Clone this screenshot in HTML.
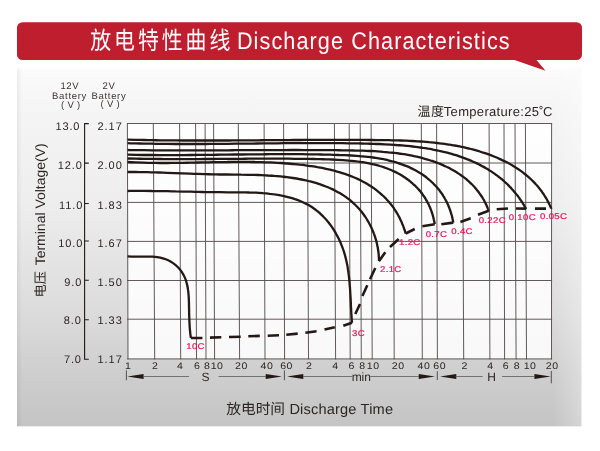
<!DOCTYPE html>
<html><head><meta charset="utf-8"><title>Discharge Characteristics</title>
<style>html,body{margin:0;padding:0;background:#fff;width:600px;height:451px;overflow:hidden;font-family:"Liberation Sans",sans-serif}</style></head>
<body>
<svg role="img" aria-label="Discharge Characteristics chart" width="600" height="451" viewBox="0 0 600 451" style="display:block;position:absolute;left:0;top:0;will-change:transform" font-family="'Liberation Sans', sans-serif" text-rendering="geometricPrecision">
<defs>
<linearGradient id="pg" x1="0" y1="0" x2="0" y2="1">
<stop offset="0" stop-color="#fbfbfb"/><stop offset="0.12" stop-color="#f5f5f5"/><stop offset="0.37" stop-color="#eeeeee"/><stop offset="0.68" stop-color="#dcdcdc"/><stop offset="0.87" stop-color="#cdcdcd"/><stop offset="1" stop-color="#c4c4c4"/>
</linearGradient>
<linearGradient id="le" x1="0" y1="0" x2="1" y2="0"><stop offset="0" stop-color="#000" stop-opacity="0.06"/><stop offset="1" stop-color="#000" stop-opacity="0"/></linearGradient>
<linearGradient id="re" x1="0" y1="0" x2="1" y2="0"><stop offset="0" stop-color="#fff" stop-opacity="0"/><stop offset="1" stop-color="#fff" stop-opacity="0.3"/></linearGradient>
<linearGradient id="tf" x1="0" y1="0" x2="0" y2="1"><stop offset="0" stop-color="#fff" stop-opacity="1"/><stop offset="1" stop-color="#fff" stop-opacity="0"/></linearGradient>
</defs>
<rect width="600" height="451" fill="#fff"/>
<rect x="17" y="66" width="564.4" height="360.3" fill="url(#pg)"/>
<rect x="17" y="66" width="5" height="360.3" fill="url(#le)"/>
<rect x="553" y="66" width="28.4" height="360.3" fill="url(#re)"/>
<rect x="17" y="66" width="564.4" height="6" fill="url(#tf)"/>
<path d="M22.5 22.2H576.5a5.5 5.5 0 0 1 5.5 5.5V54.5a5.5 5.5 0 0 1-5.5 5.5H536.5L545.5 70.8L514.5 60H22.5a5.5 5.5 0 0 1-5.5-5.5V27.7a5.5 5.5 0 0 1 5.5-5.5z" fill="#be1e2e"/>
<text transform="translate(90.3 49) scale(0.86 1)" font-size="24.3" fill="#fff" font-family="'Liberation Sans', 'Noto Sans CJK SC', sans-serif" letter-spacing="3.4">放电特性曲线</text>
<text transform="translate(236.9 48.7) scale(0.9 1)" font-size="24" fill="#fff" textLength="303" lengthAdjust="spacing">Discharge Characteristics</text>
<path d="M127.4 123.5L551.6 123.5L551.5 358.9L128.0 358.9z" fill="#fff" fill-opacity="0.86"/>
<path d="M127.4 123.0L128.0 359.4M153.3 123.0L154.7 359.4M179.6 123.0L180.7 359.4M195.6 123.0L196.5 359.4M205.1 123.0L206.0 359.4M213.6 123.0L214.6 359.4M238.3 123.0L239.6 359.4M264.1 123.0L265.0 359.4M283.6 123.0L284.6 359.4M307.5 123.0L308.5 359.4M334.4 123.0L335.6 359.4M349.2 123.0L350.2 359.4M360.2 123.0L361.3 359.4M371.1 123.0L372.2 359.4M393.4 123.0L394.2 359.4M421.3 123.0L422.3 359.4M436.6 123.0L437.4 359.4M462.5 123.0L463.7 359.4M489.1 123.0L489.9 359.4M504.0 123.0L504.6 359.4M515.0 123.0L516.1 359.4M525.4 123.0L526.5 359.4M551.6 123.0L551.5 359.4M127.10000000000001 123.5H552.1M127.10000000000001 163.0H552.1M127.10000000000001 202.4H552.1M127.10000000000001 241.4H552.1M127.10000000000001 280.5H552.1M127.10000000000001 319.2H552.1M127.10000000000001 358.9H552.1" stroke="#565150" stroke-width="0.95" fill="none"/>
<path d="M127.6 256.3C129.0 256.4 133.2 256.6 136.0 256.6C138.8 256.7 141.7 256.6 144.4 256.6C147.2 256.6 149.9 256.6 152.6 256.7C155.2 256.9 157.8 257.1 160.2 257.6C162.6 258.1 164.9 258.8 167.1 259.7C169.3 260.6 171.3 261.8 173.1 263.1C175.0 264.4 176.7 265.9 178.2 267.5C179.7 269.1 181.1 270.8 182.2 272.6C183.4 274.4 184.3 276.3 185.1 278.1C185.9 280.0 186.4 282.0 186.9 283.9C187.4 285.8 187.8 287.8 188.0 289.7C188.3 291.7 188.5 293.6 188.6 295.5C188.8 297.4 188.8 299.3 188.9 301.2C189.0 303.0 189.0 304.8 189.0 306.6C189.1 308.4 189.1 310.1 189.1 311.7C189.1 313.4 189.2 315.0 189.2 316.5C189.3 318.0 189.3 319.5 189.4 320.8C189.4 322.2 189.5 323.5 189.6 324.8C189.6 326.0 189.7 327.2 189.8 328.3C189.9 329.4 190.0 330.4 190.1 331.3C190.2 332.2 190.2 333.1 190.3 333.8C190.4 334.6 190.5 335.3 190.6 335.8C190.7 336.4 190.7 336.9 190.8 337.3C190.8 337.7 190.9 337.9 190.9 338.0" stroke="#231815" stroke-width="2.3" fill="none" stroke-linecap="butt"/>
<path d="M127.6 191.0C129.0 191.0 133.2 190.9 136.0 190.9C138.7 190.9 141.5 190.9 144.2 190.9C146.9 190.9 149.6 190.9 152.2 191.0C154.9 191.0 157.5 191.0 160.2 191.1C162.8 191.1 165.4 191.2 167.9 191.2C170.5 191.3 173.1 191.3 175.6 191.4C178.2 191.4 180.7 191.5 183.2 191.6C185.8 191.6 188.3 191.7 190.8 191.7C193.2 191.8 195.7 191.9 198.2 191.9C200.7 192.0 203.1 192.0 205.6 192.1C208.1 192.1 210.5 192.1 212.9 192.2C215.4 192.2 217.8 192.2 220.3 192.2C222.7 192.3 225.1 192.3 227.5 192.3C229.9 192.3 232.4 192.3 234.8 192.3C237.2 192.3 239.6 192.3 241.9 192.3C244.3 192.4 246.7 192.4 249.1 192.5C251.4 192.5 253.7 192.6 256.1 192.7C258.4 192.8 260.7 193.0 263.0 193.2C265.2 193.3 267.5 193.5 269.7 193.8C272.0 194.0 274.2 194.3 276.4 194.7C278.5 195.0 280.7 195.4 282.8 195.8C284.9 196.3 287.0 196.8 289.0 197.3C291.1 197.8 293.1 198.4 295.0 199.1C296.9 199.7 298.8 200.4 300.7 201.2C302.5 202.0 304.3 202.8 306.0 203.7C307.7 204.6 309.4 205.5 311.0 206.5C312.6 207.6 314.1 208.6 315.6 209.7C317.1 210.9 318.5 212.0 319.8 213.2C321.2 214.5 322.5 215.7 323.7 217.0C325.0 218.3 326.2 219.6 327.3 221.0C328.5 222.3 329.5 223.7 330.6 225.1C331.6 226.5 332.6 228.0 333.5 229.4C334.4 230.9 335.3 232.3 336.1 233.8C337.0 235.3 337.8 236.8 338.5 238.3C339.2 239.8 339.9 241.3 340.6 242.8C341.2 244.3 341.8 245.9 342.4 247.4C343.0 248.9 343.5 250.4 344.0 251.9C344.4 253.4 344.9 254.9 345.3 256.4C345.7 257.9 346.0 259.4 346.4 260.9C346.7 262.4 347.0 263.9 347.3 265.3C347.6 266.8 347.8 268.3 348.0 269.7C348.3 271.1 348.5 272.5 348.6 273.9C348.8 275.3 349.0 276.7 349.1 278.0C349.3 279.4 349.4 280.7 349.5 282.1C349.6 283.4 349.7 284.7 349.8 285.9C349.9 287.2 350.0 288.4 350.1 289.6C350.2 290.9 350.2 292.1 350.3 293.2C350.4 294.4 350.4 295.5 350.5 296.6C350.6 297.7 350.6 298.8 350.7 299.9C350.7 300.9 350.8 301.9 350.8 302.9C350.9 303.9 350.9 304.9 350.9 305.8C351.0 306.7 351.0 307.6 351.1 308.5C351.1 309.4 351.2 310.2 351.2 311.0C351.2 311.8 351.3 312.6 351.3 313.3C351.4 314.0 351.4 314.7 351.5 315.4C351.5 316.0 351.5 316.7 351.6 317.3C351.6 317.8 351.7 318.4 351.7 318.9C351.7 319.4 351.8 319.9 351.8 320.3C351.8 320.7 351.9 321.1 351.9 321.5C351.9 321.8 351.9 322.1 352.0 322.3C352.0 322.5 352.0 322.6 352.0 322.7" stroke="#231815" stroke-width="2.3" fill="none" stroke-linecap="butt"/>
<path d="M127.6 172.0C128.9 172.0 132.9 172.0 135.5 172.0C138.2 172.0 140.8 172.1 143.4 172.1C146.0 172.2 148.7 172.2 151.3 172.3C153.9 172.4 156.5 172.4 159.1 172.5C161.7 172.6 164.3 172.7 166.9 172.8C169.5 172.9 172.1 173.0 174.6 173.1C177.2 173.2 179.8 173.3 182.3 173.4C184.9 173.5 187.4 173.6 189.9 173.7C192.5 173.8 195.0 173.8 197.5 173.9C200.0 174.0 202.5 174.1 205.0 174.2C207.4 174.2 209.9 174.3 212.4 174.3C214.8 174.4 217.2 174.4 219.7 174.5C222.1 174.5 224.5 174.5 226.9 174.5C229.3 174.6 231.6 174.6 234.0 174.6C236.3 174.6 238.7 174.6 241.0 174.7C243.3 174.7 245.6 174.7 247.9 174.8C250.2 174.8 252.4 174.9 254.7 174.9C256.9 175.0 259.2 175.0 261.4 175.1C263.6 175.2 265.8 175.3 267.9 175.5C270.1 175.6 272.2 175.7 274.4 175.9C276.5 176.0 278.6 176.2 280.7 176.4C282.8 176.6 284.8 176.9 286.9 177.1C288.9 177.4 290.9 177.7 292.9 178.0C294.9 178.3 296.9 178.6 298.9 179.0C300.8 179.3 302.8 179.7 304.7 180.1C306.6 180.5 308.4 181.0 310.3 181.4C312.1 181.9 313.9 182.4 315.7 182.9C317.5 183.5 319.2 184.0 320.9 184.6C322.7 185.2 324.3 185.8 326.0 186.5C327.6 187.1 329.2 187.8 330.8 188.5C332.3 189.2 333.9 189.9 335.3 190.7C336.8 191.5 338.3 192.3 339.7 193.1C341.1 193.9 342.4 194.7 343.8 195.6C345.1 196.5 346.4 197.4 347.6 198.3C348.8 199.2 350.0 200.2 351.2 201.1C352.3 202.1 353.5 203.1 354.5 204.1C355.6 205.1 356.6 206.2 357.6 207.2C358.6 208.3 359.6 209.3 360.5 210.4C361.4 211.5 362.2 212.6 363.1 213.7C363.9 214.8 364.7 215.9 365.4 217.0C366.2 218.2 366.9 219.3 367.5 220.4C368.2 221.5 368.8 222.6 369.4 223.8C370.0 224.9 370.6 226.0 371.1 227.1C371.6 228.2 372.1 229.3 372.6 230.4C373.1 231.5 373.5 232.5 373.9 233.6C374.3 234.6 374.6 235.7 375.0 236.7C375.3 237.7 375.6 238.8 375.9 239.7C376.2 240.7 376.5 241.7 376.7 242.7C376.9 243.6 377.1 244.5 377.3 245.4C377.5 246.3 377.7 247.2 377.8 248.1C378.0 248.9 378.1 249.7 378.2 250.5C378.3 251.3 378.4 252.1 378.5 252.8C378.6 253.5 378.7 254.2 378.7 254.8C378.8 255.5 378.8 256.1 378.8 256.7C378.9 257.3 378.9 257.8 378.9 258.3C379.0 258.8 379.0 259.2 379.0 259.6C379.0 260.0 379.0 260.3 379.0 260.5C379.0 260.8 379.0 260.9 379.0 261.0" stroke="#231815" stroke-width="2.3" fill="none" stroke-linecap="butt"/>
<path d="M127.6 162.0C129.0 162.1 133.1 162.3 135.8 162.4C138.5 162.5 141.2 162.6 143.9 162.7C146.6 162.8 149.3 162.8 151.9 162.9C154.6 162.9 157.2 163.0 159.8 163.0C162.5 163.0 165.1 163.0 167.7 163.0C170.3 163.0 172.8 162.9 175.4 162.9C178.0 162.9 180.5 162.9 183.0 162.8C185.6 162.8 188.1 162.7 190.6 162.7C193.1 162.6 195.6 162.6 198.1 162.5C200.5 162.5 203.0 162.4 205.4 162.4C207.9 162.3 210.3 162.3 212.7 162.2C215.1 162.2 217.5 162.1 219.9 162.1C222.3 162.0 224.7 162.0 227.0 162.0C229.4 161.9 231.7 161.9 234.1 161.9C236.4 161.9 238.7 161.9 241.0 161.9C243.3 161.9 245.6 161.9 247.9 161.9C250.1 161.9 252.4 161.9 254.6 162.0C256.9 162.0 259.1 162.1 261.3 162.1C263.6 162.2 265.8 162.3 267.9 162.3C270.1 162.4 272.3 162.5 274.5 162.6C276.6 162.8 278.7 162.9 280.9 163.0C283.0 163.2 285.1 163.3 287.2 163.5C289.3 163.7 291.4 163.8 293.5 164.0C295.5 164.2 297.6 164.4 299.6 164.7C301.7 164.9 303.7 165.1 305.7 165.4C307.7 165.7 309.7 165.9 311.6 166.2C313.6 166.5 315.6 166.8 317.5 167.2C319.4 167.5 321.3 167.9 323.2 168.2C325.0 168.6 326.9 169.0 328.7 169.4C330.5 169.8 332.3 170.3 334.0 170.7C335.8 171.2 337.5 171.6 339.2 172.1C340.9 172.6 342.6 173.1 344.2 173.7C345.8 174.2 347.4 174.8 349.0 175.4C350.6 176.0 352.1 176.6 353.6 177.2C355.1 177.8 356.6 178.4 358.0 179.1C359.4 179.8 360.8 180.4 362.2 181.2C363.5 181.9 364.8 182.6 366.1 183.3C367.4 184.0 368.6 184.8 369.9 185.6C371.1 186.3 372.2 187.1 373.4 187.9C374.5 188.7 375.6 189.6 376.7 190.4C377.8 191.2 378.8 192.1 379.8 192.9C380.8 193.8 381.8 194.6 382.7 195.5C383.6 196.3 384.5 197.2 385.4 198.1C386.2 199.0 387.1 199.9 387.9 200.8C388.7 201.7 389.4 202.5 390.2 203.4C390.9 204.3 391.6 205.2 392.3 206.1C392.9 207.0 393.6 207.9 394.2 208.8C394.8 209.7 395.4 210.6 395.9 211.4C396.5 212.3 397.0 213.2 397.5 214.0C398.0 214.9 398.4 215.7 398.9 216.6C399.3 217.4 399.8 218.2 400.1 219.0C400.5 219.9 400.9 220.6 401.3 221.4C401.6 222.2 401.9 222.9 402.2 223.7C402.5 224.4 402.8 225.1 403.1 225.8C403.3 226.5 403.6 227.1 403.8 227.7C404.0 228.3 404.2 228.9 404.4 229.5C404.6 230.0 404.8 230.6 404.9 231.0C405.1 231.5 405.2 231.9 405.3 232.3C405.4 232.7 405.5 233.0 405.6 233.2C405.6 233.5 405.7 233.6 405.7 233.7" stroke="#231815" stroke-width="2.3" fill="none" stroke-linecap="butt"/>
<path d="M127.6 158.5C129.0 158.5 133.1 158.6 135.9 158.7C138.6 158.7 141.3 158.8 144.0 158.8C146.7 158.9 149.4 158.9 152.1 158.9C154.7 159.0 157.4 159.0 160.0 159.0C162.6 159.0 165.3 159.1 167.9 159.1C170.5 159.1 173.0 159.1 175.6 159.1C178.2 159.1 180.7 159.1 183.3 159.1C185.8 159.1 188.3 159.1 190.8 159.1C193.4 159.1 195.9 159.1 198.3 159.1C200.8 159.0 203.3 159.0 205.7 159.0C208.2 159.0 210.6 159.0 213.1 159.0C215.5 159.0 217.9 158.9 220.3 158.9C222.7 158.9 225.1 158.9 227.5 158.9C229.8 158.8 232.2 158.8 234.5 158.8C236.9 158.8 239.2 158.8 241.5 158.8C243.9 158.8 246.2 158.7 248.5 158.7C250.8 158.7 253.1 158.7 255.3 158.7C257.6 158.7 259.9 158.7 262.1 158.7C264.4 158.7 266.6 158.7 268.8 158.7C271.0 158.7 273.3 158.7 275.5 158.7C277.7 158.7 279.8 158.7 282.0 158.7C284.2 158.7 286.4 158.7 288.5 158.7C290.7 158.7 292.8 158.7 294.9 158.8C297.1 158.8 299.2 158.8 301.3 158.8C303.4 158.9 305.5 158.9 307.6 158.9C309.6 159.0 311.7 159.0 313.8 159.0C315.8 159.1 317.9 159.1 319.9 159.2C321.9 159.2 324.0 159.3 326.0 159.3C328.0 159.4 330.0 159.4 331.9 159.5C333.9 159.6 335.9 159.7 337.8 159.8C339.7 159.9 341.6 160.0 343.5 160.1C345.4 160.2 347.3 160.4 349.2 160.6C351.0 160.7 352.8 160.9 354.6 161.1C356.4 161.3 358.2 161.5 360.0 161.8C361.7 162.1 363.5 162.3 365.2 162.6C366.9 162.9 368.5 163.2 370.2 163.6C371.8 163.9 373.4 164.3 375.0 164.7C376.6 165.1 378.2 165.5 379.7 166.0C381.2 166.4 382.7 166.9 384.2 167.4C385.6 167.9 387.1 168.4 388.5 169.0C389.9 169.5 391.3 170.1 392.6 170.7C393.9 171.3 395.2 172.0 396.5 172.6C397.8 173.3 399.0 173.9 400.2 174.6C401.4 175.3 402.6 176.0 403.7 176.8C404.9 177.5 405.9 178.2 407.0 179.0C408.1 179.8 409.1 180.5 410.1 181.3C411.1 182.1 412.0 182.9 412.9 183.8C413.9 184.6 414.7 185.4 415.6 186.2C416.4 187.1 417.3 187.9 418.0 188.8C418.8 189.7 419.6 190.5 420.3 191.4C421.0 192.3 421.7 193.1 422.3 194.0C423.0 194.9 423.6 195.8 424.2 196.6C424.7 197.5 425.3 198.4 425.8 199.3C426.3 200.1 426.8 201.0 427.3 201.9C427.8 202.7 428.2 203.6 428.6 204.4C429.0 205.3 429.4 206.1 429.8 207.0C430.1 207.8 430.4 208.6 430.8 209.4C431.1 210.2 431.4 211.0 431.6 211.8C431.9 212.5 432.1 213.3 432.4 214.0C432.6 214.7 432.8 215.4 433.0 216.1C433.2 216.8 433.3 217.4 433.5 218.0C433.6 218.7 433.8 219.2 433.9 219.8C434.0 220.3 434.1 220.9 434.2 221.3C434.3 221.8 434.4 222.2 434.5 222.6C434.5 223.0 434.6 223.3 434.6 223.5C434.7 223.8 434.7 223.9 434.7 224.0" stroke="#231815" stroke-width="2.3" fill="none" stroke-linecap="butt"/>
<path d="M127.6 154.7C129.0 154.7 133.1 154.8 135.9 154.9C138.6 154.9 141.3 154.9 144.0 155.0C146.7 155.0 149.4 155.0 152.1 155.0C154.8 155.1 157.4 155.1 160.1 155.1C162.7 155.1 165.3 155.1 167.9 155.1C170.5 155.1 173.1 155.1 175.7 155.1C178.3 155.1 180.8 155.1 183.4 155.1C185.9 155.0 188.4 155.0 190.9 155.0C193.5 155.0 196.0 155.0 198.4 154.9C200.9 154.9 203.4 154.9 205.9 154.9C208.3 154.9 210.8 154.8 213.2 154.8C215.6 154.8 218.0 154.7 220.4 154.7C222.8 154.7 225.2 154.7 227.6 154.6C230.0 154.6 232.4 154.6 234.7 154.5C237.1 154.5 239.4 154.5 241.8 154.5C244.1 154.4 246.4 154.4 248.7 154.4C251.0 154.4 253.3 154.3 255.6 154.3C257.9 154.3 260.2 154.3 262.4 154.3C264.7 154.3 266.9 154.2 269.2 154.2C271.4 154.2 273.6 154.2 275.9 154.2C278.1 154.2 280.3 154.2 282.5 154.2C284.7 154.2 286.9 154.2 289.0 154.2C291.2 154.2 293.4 154.2 295.5 154.2C297.7 154.2 299.8 154.2 302.0 154.2C304.1 154.3 306.2 154.3 308.3 154.3C310.4 154.3 312.5 154.4 314.6 154.4C316.7 154.4 318.8 154.5 320.9 154.5C322.9 154.5 325.0 154.6 327.0 154.6C329.1 154.7 331.1 154.7 333.1 154.8C335.2 154.8 337.2 154.9 339.2 155.0C341.2 155.0 343.2 155.1 345.1 155.2C347.1 155.3 349.1 155.4 351.0 155.5C352.9 155.6 354.8 155.7 356.7 155.8C358.6 156.0 360.5 156.1 362.4 156.3C364.2 156.5 366.0 156.7 367.8 156.9C369.6 157.1 371.4 157.3 373.2 157.5C374.9 157.8 376.7 158.0 378.4 158.3C380.1 158.6 381.8 158.9 383.4 159.2C385.1 159.6 386.7 159.9 388.3 160.3C389.9 160.7 391.5 161.1 393.0 161.5C394.5 161.9 396.1 162.3 397.5 162.8C399.0 163.3 400.5 163.8 401.9 164.3C403.3 164.8 404.7 165.3 406.1 165.9C407.4 166.4 408.8 167.0 410.1 167.6C411.4 168.2 412.6 168.8 413.9 169.5C415.1 170.1 416.3 170.8 417.5 171.5C418.7 172.1 419.8 172.8 420.9 173.6C422.1 174.3 423.1 175.0 424.2 175.8C425.2 176.5 426.3 177.3 427.2 178.1C428.2 178.9 429.2 179.7 430.1 180.5C431.0 181.3 431.9 182.1 432.8 183.0C433.6 183.8 434.4 184.6 435.2 185.5C436.0 186.3 436.8 187.2 437.5 188.0C438.2 188.9 438.9 189.8 439.6 190.6C440.2 191.5 440.9 192.4 441.5 193.2C442.1 194.1 442.7 195.0 443.2 195.9C443.8 196.7 444.3 197.6 444.8 198.5C445.3 199.3 445.7 200.2 446.2 201.0C446.6 201.9 447.0 202.7 447.4 203.5C447.8 204.4 448.2 205.2 448.5 206.0C448.8 206.8 449.2 207.6 449.5 208.4C449.8 209.2 450.0 209.9 450.3 210.7C450.5 211.4 450.8 212.1 451.0 212.9C451.2 213.6 451.4 214.2 451.6 214.9C451.8 215.5 451.9 216.2 452.1 216.8C452.2 217.4 452.4 217.9 452.5 218.5C452.6 219.0 452.7 219.5 452.8 219.9C452.9 220.4 453.0 220.8 453.1 221.2C453.1 221.5 453.2 221.8 453.2 222.1C453.3 222.3 453.3 222.4 453.3 222.5" stroke="#231815" stroke-width="2.3" fill="none" stroke-linecap="butt"/>
<path d="M127.6 150.0C129.0 150.0 133.2 150.1 135.9 150.1C138.7 150.1 141.4 150.2 144.1 150.2C146.8 150.2 149.5 150.2 152.2 150.3C154.9 150.3 157.6 150.3 160.2 150.3C162.9 150.3 165.5 150.3 168.1 150.3C170.8 150.4 173.4 150.4 176.0 150.4C178.6 150.4 181.2 150.4 183.7 150.4C186.3 150.4 188.9 150.4 191.4 150.4C193.9 150.4 196.5 150.4 199.0 150.4C201.5 150.4 204.0 150.4 206.5 150.3C209.0 150.3 211.4 150.3 213.9 150.3C216.4 150.3 218.8 150.3 221.3 150.3C223.7 150.3 226.1 150.3 228.5 150.3C230.9 150.3 233.3 150.2 235.7 150.2C238.1 150.2 240.5 150.2 242.9 150.2C245.2 150.2 247.6 150.2 249.9 150.2C252.3 150.2 254.6 150.1 256.9 150.1C259.3 150.1 261.6 150.1 263.9 150.1C266.2 150.1 268.5 150.1 270.7 150.1C273.0 150.1 275.3 150.1 277.5 150.1C279.8 150.1 282.0 150.1 284.3 150.1C286.5 150.0 288.7 150.0 290.9 150.0C293.2 150.0 295.4 150.0 297.6 150.0C299.8 150.0 301.9 150.0 304.1 150.1C306.3 150.1 308.4 150.1 310.6 150.1C312.8 150.1 314.9 150.1 317.0 150.1C319.2 150.1 321.3 150.1 323.4 150.1C325.5 150.1 327.6 150.1 329.7 150.2C331.8 150.2 333.9 150.2 335.9 150.2C338.0 150.2 340.1 150.3 342.1 150.3C344.2 150.3 346.2 150.3 348.2 150.4C350.3 150.4 352.3 150.4 354.3 150.5C356.3 150.5 358.3 150.5 360.2 150.6C362.2 150.7 364.2 150.7 366.1 150.8C368.0 150.9 370.0 151.0 371.9 151.0C373.8 151.1 375.7 151.3 377.5 151.4C379.4 151.5 381.3 151.6 383.1 151.8C385.0 151.9 386.8 152.1 388.6 152.3C390.4 152.4 392.1 152.6 393.9 152.8C395.7 153.0 397.4 153.2 399.1 153.5C400.8 153.7 402.5 154.0 404.2 154.2C405.9 154.5 407.5 154.8 409.2 155.1C410.8 155.4 412.4 155.7 414.0 156.1C415.6 156.4 417.2 156.8 418.7 157.1C420.2 157.5 421.8 157.9 423.3 158.3C424.8 158.7 426.2 159.1 427.7 159.6C429.1 160.0 430.6 160.5 432.0 160.9C433.4 161.4 434.7 161.9 436.1 162.4C437.5 162.9 438.8 163.4 440.1 163.9C441.4 164.5 442.7 165.0 443.9 165.6C445.2 166.2 446.4 166.7 447.6 167.3C448.8 167.9 450.0 168.5 451.2 169.2C452.3 169.8 453.4 170.4 454.5 171.0C455.6 171.7 456.7 172.3 457.7 173.0C458.8 173.7 459.8 174.3 460.7 175.0C461.7 175.7 462.7 176.4 463.6 177.1C464.5 177.8 465.4 178.5 466.3 179.2C467.1 179.9 468.0 180.7 468.8 181.4C469.6 182.1 470.3 182.8 471.1 183.6C471.8 184.3 472.6 185.0 473.3 185.8C474.0 186.5 474.6 187.2 475.3 188.0C475.9 188.7 476.5 189.4 477.1 190.2C477.7 190.9 478.2 191.6 478.8 192.3C479.3 193.0 479.8 193.8 480.3 194.5C480.8 195.2 481.3 195.9 481.7 196.6C482.2 197.2 482.6 197.9 483.0 198.6C483.4 199.2 483.7 199.9 484.1 200.5C484.4 201.2 484.8 201.8 485.1 202.4C485.4 203.0 485.7 203.6 485.9 204.1C486.2 204.7 486.5 205.2 486.7 205.8C486.9 206.3 487.1 206.8 487.3 207.2C487.5 207.7 487.7 208.1 487.8 208.5C488.0 208.9 488.1 209.2 488.3 209.5C488.4 209.8 488.5 210.1 488.6 210.3C488.6 210.5 488.7 210.6 488.7 210.7" stroke="#231815" stroke-width="2.3" fill="none" stroke-linecap="butt"/>
<path d="M127.6 143.2C129.0 143.2 133.1 143.4 135.8 143.4C138.5 143.5 141.2 143.5 143.9 143.6C146.6 143.7 149.2 143.7 151.9 143.7C154.5 143.8 157.2 143.8 159.8 143.9C162.4 143.9 165.1 143.9 167.7 143.9C170.3 144.0 172.9 144.0 175.5 144.0C178.0 144.0 180.6 144.0 183.2 144.0C185.7 144.0 188.3 144.0 190.8 144.0C193.3 144.0 195.9 144.0 198.4 144.0C200.9 144.0 203.4 144.0 205.9 144.0C208.4 144.0 210.8 143.9 213.3 143.9C215.8 143.9 218.2 143.9 220.7 143.9C223.1 143.9 225.5 143.8 228.0 143.8C230.4 143.8 232.8 143.8 235.2 143.7C237.6 143.7 240.0 143.7 242.4 143.7C244.7 143.6 247.1 143.6 249.5 143.6C251.8 143.6 254.2 143.5 256.5 143.5C258.8 143.5 261.2 143.5 263.5 143.4C265.8 143.4 268.1 143.4 270.4 143.4C272.7 143.3 275.0 143.3 277.3 143.3C279.6 143.3 281.8 143.3 284.1 143.2C286.3 143.2 288.6 143.2 290.8 143.2C293.1 143.2 295.3 143.2 297.5 143.1C299.7 143.1 301.9 143.1 304.1 143.1C306.3 143.1 308.5 143.1 310.7 143.1C312.9 143.1 315.1 143.1 317.2 143.1C319.4 143.1 321.5 143.1 323.7 143.1C325.8 143.1 327.9 143.1 330.1 143.1C332.2 143.1 334.3 143.2 336.4 143.2C338.5 143.2 340.6 143.2 342.7 143.2C344.8 143.3 346.8 143.3 348.9 143.3C351.0 143.3 353.0 143.4 355.1 143.4C357.1 143.4 359.2 143.5 361.2 143.5C363.2 143.6 365.2 143.6 367.2 143.7C369.2 143.7 371.2 143.8 373.2 143.8C375.2 143.9 377.1 144.0 379.1 144.0C381.1 144.1 383.0 144.2 384.9 144.3C386.9 144.4 388.8 144.5 390.7 144.6C392.6 144.7 394.4 144.8 396.3 145.0C398.2 145.1 400.0 145.2 401.9 145.4C403.7 145.6 405.5 145.7 407.3 145.9C409.1 146.1 410.9 146.3 412.7 146.5C414.5 146.7 416.2 146.9 418.0 147.1C419.7 147.4 421.4 147.6 423.1 147.9C424.8 148.1 426.5 148.4 428.1 148.7C429.8 148.9 431.4 149.2 433.1 149.6C434.7 149.9 436.3 150.2 437.9 150.5C439.5 150.9 441.0 151.2 442.6 151.6C444.1 151.9 445.7 152.3 447.2 152.7C448.7 153.1 450.2 153.5 451.6 153.9C453.1 154.4 454.5 154.8 456.0 155.2C457.4 155.7 458.8 156.1 460.2 156.6C461.6 157.1 462.9 157.6 464.3 158.1C465.6 158.6 466.9 159.1 468.2 159.6C469.5 160.1 470.8 160.7 472.1 161.2C473.3 161.8 474.5 162.3 475.8 162.9C477.0 163.4 478.2 164.0 479.3 164.6C480.5 165.2 481.6 165.8 482.7 166.4C483.9 167.0 485.0 167.6 486.0 168.3C487.1 168.9 488.2 169.5 489.2 170.2C490.2 170.8 491.2 171.5 492.2 172.1C493.2 172.8 494.1 173.4 495.1 174.1C496.0 174.8 496.9 175.4 497.8 176.1C498.7 176.8 499.6 177.5 500.4 178.1C501.2 178.8 502.1 179.5 502.9 180.2C503.7 180.9 504.4 181.6 505.2 182.3C506.0 182.9 506.7 183.6 507.4 184.3C508.1 185.0 508.8 185.7 509.5 186.4C510.1 187.1 510.8 187.7 511.4 188.4C512.0 189.1 512.6 189.8 513.2 190.4C513.8 191.1 514.4 191.8 514.9 192.4C515.5 193.1 516.0 193.7 516.5 194.4C517.0 195.0 517.5 195.6 518.0 196.2C518.4 196.9 518.9 197.5 519.3 198.1C519.7 198.7 520.1 199.2 520.5 199.8C520.9 200.4 521.3 200.9 521.6 201.4C522.0 202.0 522.3 202.5 522.6 203.0C522.9 203.5 523.2 203.9 523.5 204.4C523.8 204.8 524.0 205.3 524.3 205.7C524.5 206.1 524.7 206.4 524.9 206.8C525.1 207.1 525.3 207.4 525.4 207.7C525.6 208.0 525.7 208.2 525.8 208.4C525.9 208.5 526.0 208.6 526.0 208.7" stroke="#231815" stroke-width="2.3" fill="none" stroke-linecap="butt"/>
<path d="M127.6 139.7C129.0 139.7 133.1 139.8 135.8 139.9C138.6 139.9 141.3 140.0 144.0 140.0C146.7 140.1 149.4 140.1 152.1 140.2C154.7 140.2 157.4 140.3 160.1 140.3C162.7 140.3 165.4 140.4 168.0 140.4C170.6 140.4 173.3 140.4 175.9 140.4C178.5 140.5 181.1 140.5 183.7 140.5C186.3 140.5 188.8 140.5 191.4 140.5C194.0 140.5 196.5 140.5 199.1 140.5C201.6 140.5 204.1 140.5 206.6 140.5C209.2 140.5 211.7 140.5 214.2 140.5C216.7 140.5 219.2 140.5 221.6 140.5C224.1 140.5 226.6 140.5 229.0 140.5C231.5 140.5 233.9 140.4 236.4 140.4C238.8 140.4 241.2 140.4 243.7 140.4C246.1 140.4 248.5 140.3 250.9 140.3C253.3 140.3 255.7 140.3 258.0 140.3C260.4 140.3 262.8 140.2 265.1 140.2C267.5 140.2 269.8 140.2 272.2 140.2C274.5 140.2 276.8 140.1 279.1 140.1C281.5 140.1 283.8 140.1 286.1 140.1C288.4 140.1 290.6 140.0 292.9 140.0C295.2 140.0 297.5 140.0 299.7 140.0C302.0 140.0 304.2 140.0 306.5 139.9C308.7 139.9 310.9 139.9 313.2 139.9C315.4 139.9 317.6 139.9 319.8 139.9C322.0 139.9 324.2 139.9 326.4 139.9C328.6 139.9 330.7 139.9 332.9 139.9C335.1 139.9 337.2 139.9 339.4 139.9C341.5 139.9 343.6 139.9 345.8 139.9C347.9 139.9 350.0 139.9 352.1 139.9C354.2 139.9 356.3 139.9 358.4 139.9C360.5 139.9 362.6 139.9 364.7 139.9C366.7 140.0 368.8 140.0 370.8 140.0C372.9 140.0 374.9 140.0 377.0 140.1C379.0 140.1 381.0 140.1 383.0 140.1C385.0 140.2 387.0 140.2 389.0 140.2C391.0 140.3 393.0 140.3 395.0 140.4C396.9 140.4 398.9 140.5 400.8 140.5C402.8 140.6 404.7 140.7 406.6 140.7C408.5 140.8 410.4 140.9 412.3 141.0C414.2 141.1 416.1 141.2 417.9 141.3C419.8 141.4 421.6 141.6 423.5 141.7C425.3 141.8 427.1 142.0 428.9 142.2C430.7 142.3 432.5 142.5 434.3 142.7C436.0 142.9 437.8 143.1 439.5 143.3C441.3 143.5 443.0 143.7 444.7 143.9C446.4 144.2 448.1 144.4 449.8 144.7C451.5 145.0 453.1 145.2 454.7 145.5C456.4 145.8 458.0 146.1 459.6 146.4C461.2 146.8 462.8 147.1 464.4 147.4C465.9 147.8 467.5 148.2 469.0 148.5C470.6 148.9 472.1 149.3 473.6 149.7C475.1 150.1 476.6 150.5 478.0 150.9C479.5 151.4 480.9 151.8 482.3 152.3C483.8 152.7 485.2 153.2 486.6 153.7C488.0 154.2 489.3 154.7 490.7 155.2C492.0 155.7 493.3 156.2 494.6 156.7C495.9 157.3 497.2 157.8 498.5 158.4C499.8 158.9 501.0 159.5 502.2 160.1C503.4 160.6 504.6 161.2 505.8 161.8C507.0 162.4 508.1 163.0 509.2 163.6C510.3 164.3 511.4 164.9 512.5 165.5C513.6 166.2 514.6 166.8 515.7 167.5C516.7 168.1 517.7 168.8 518.7 169.4C519.6 170.1 520.6 170.8 521.5 171.4C522.4 172.1 523.4 172.8 524.2 173.5C525.1 174.2 526.0 174.9 526.8 175.6C527.6 176.3 528.4 177.0 529.2 177.7C530.0 178.4 530.7 179.1 531.5 179.8C532.2 180.5 532.9 181.2 533.6 181.9C534.3 182.6 535.0 183.3 535.6 184.0C536.3 184.7 536.9 185.4 537.5 186.1C538.1 186.8 538.6 187.5 539.2 188.2C539.7 188.9 540.3 189.6 540.8 190.3C541.3 190.9 541.8 191.6 542.3 192.3C542.7 192.9 543.2 193.6 543.6 194.2C544.0 194.9 544.5 195.5 544.8 196.1C545.2 196.8 545.6 197.4 546.0 198.0C546.3 198.6 546.7 199.2 547.0 199.7C547.3 200.3 547.6 200.9 547.9 201.4C548.2 201.9 548.4 202.4 548.7 202.9C548.9 203.4 549.2 203.9 549.4 204.4C549.6 204.8 549.8 205.2 550.0 205.6C550.2 206.0 550.3 206.4 550.5 206.8C550.6 207.1 550.8 207.4 550.9 207.7C551.0 207.9 551.1 208.2 551.2 208.4C551.2 208.5 551.3 208.6 551.3 208.7" stroke="#231815" stroke-width="2.3" fill="none" stroke-linecap="butt"/>
<path d="M190.9 338L202.4 338M210 337.6L221.3 337.3M229 337L240.7 336.7M248.3 336.3L259.8 335.9M267.7 335.7L279 335.3M286.3 334.7L297.7 333.6M305.4 332.7L316.6 331.3M324.5 329.6L334.8 327.3M343.3 325.7L352 322.7M355.3 314L360 304M362.4 296L367.3 285.3M370 279.3L375.3 268M378.9 261.2L385.3 252.3M390 247L398.7 239M405.7 233.5L414.7 229M422.4 226.3L434.7 224.2M441.3 224.2L453.3 222.6M460.4 222L470.7 218.3M478 214.7L488.7 210.7M496.7 209.3L508 208.5M516 208.5L526 208.6M535 208.6L546 208.6" stroke="#231815" stroke-width="2.6" fill="none"/>
<path d="M88.8 123.6H84.6V359.2H88.8M84.6 163.1H88.8M84.6 203.5H88.8M84.6 241.0H88.8M84.6 280.3H88.8M84.6 319.8H88.8" stroke="#231815" stroke-width="1.1" fill="none"/>
<text x="80.4" y="129.9" font-size="11" fill="#2b2624" text-anchor="end" letter-spacing="0.9">13.0</text>
<text x="97.5" y="129.9" font-size="11" fill="#2b2624" letter-spacing="0.95">2.17</text>
<text x="82.8" y="168.8" font-size="11" fill="#2b2624" text-anchor="end" letter-spacing="0.9">12.0</text>
<text x="97.5" y="168.8" font-size="11" fill="#2b2624" letter-spacing="0.95">2.00</text>
<text x="83.2" y="209.1" font-size="11" fill="#2b2624" text-anchor="end" letter-spacing="0.9">11.0</text>
<text x="97.5" y="209.1" font-size="11" fill="#2b2624" letter-spacing="0.95">1.83</text>
<text x="83.2" y="246.5" font-size="11" fill="#2b2624" text-anchor="end" letter-spacing="0.9">10.0</text>
<text x="97.5" y="246.5" font-size="11" fill="#2b2624" letter-spacing="0.95">1.67</text>
<text x="82.2" y="285.7" font-size="11" fill="#2b2624" text-anchor="end" letter-spacing="0.9">9.0</text>
<text x="97.5" y="285.7" font-size="11" fill="#2b2624" letter-spacing="0.95">1.50</text>
<text x="81.8" y="324.1" font-size="11" fill="#2b2624" text-anchor="end" letter-spacing="0.9">8.0</text>
<text x="97.5" y="324.1" font-size="11" fill="#2b2624" letter-spacing="0.95">1.33</text>
<text x="81.9" y="362.8" font-size="11" fill="#2b2624" text-anchor="end" letter-spacing="0.9">7.0</text>
<text x="97.5" y="362.8" font-size="11" fill="#2b2624" letter-spacing="0.95">1.17</text>
<text x="69.80" y="88.5" font-size="9.5" fill="#3a3533" text-anchor="middle" letter-spacing="0.6">12V</text>
<text x="69.55" y="98.8" font-size="9.5" fill="#3a3533" text-anchor="middle" letter-spacing="0.7">Battery</text>
<text x="70.85" y="108.4" font-size="9.5" fill="#3a3533" text-anchor="middle" letter-spacing="0.3">( V )</text>
<text x="109.00" y="88.5" font-size="9.5" fill="#3a3533" text-anchor="middle" letter-spacing="0.6">2V</text>
<text x="108.95" y="98.8" font-size="9.5" fill="#3a3533" text-anchor="middle" letter-spacing="0.7">Battery</text>
<text x="110.35" y="107.3" font-size="9.5" fill="#3a3533" text-anchor="middle" letter-spacing="0.3">( V )</text>
<g transform="translate(45.3 297.5) rotate(-90)"><text x="0" y="0" font-size="13.2" fill="#2b2624" font-family="'Liberation Sans', 'Noto Sans CJK SC', sans-serif">电压</text><text x="32.2" y="0" font-size="13.7" fill="#2b2624" textLength="122" lengthAdjust="spacingAndGlyphs">Terminal Voltage(V)</text></g>
<text x="417.6" y="116.2" font-size="13" fill="#2b2624" font-family="'Liberation Sans', 'Noto Sans CJK SC', sans-serif" letter-spacing="0.5">温度</text>
<text x="443.8" y="116.2" font-size="13" fill="#2b2624" textLength="95.2" lengthAdjust="spacing">Temperature:25</text>
<circle cx="541" cy="107.6" r="1.35" fill="none" stroke="#2b2624" stroke-width="0.8"/>
<text x="543" y="116.2" font-size="13" fill="#2b2624">C</text>
<text transform="translate(128.0 368.6) scale(1.1 1)" x="0.25" font-size="9.6" fill="#2b2624" text-anchor="middle" letter-spacing="0.5">1</text>
<text transform="translate(155.0 368.6) scale(1.1 1)" x="0.25" font-size="9.6" fill="#2b2624" text-anchor="middle" letter-spacing="0.5">2</text>
<text transform="translate(180.0 368.6) scale(1.1 1)" x="0.25" font-size="9.6" fill="#2b2624" text-anchor="middle" letter-spacing="0.5">4</text>
<text transform="translate(197.0 368.6) scale(1.1 1)" x="0.25" font-size="9.6" fill="#2b2624" text-anchor="middle" letter-spacing="0.5">6</text>
<text transform="translate(207.0 368.6) scale(1.1 1)" x="0.25" font-size="9.6" fill="#2b2624" text-anchor="middle" letter-spacing="0.5">8</text>
<text transform="translate(216.8 368.6) scale(1.1 1)" x="0.25" font-size="9.6" fill="#2b2624" text-anchor="middle" letter-spacing="0.5">10</text>
<text transform="translate(241.2 368.6) scale(1.1 1)" x="0.25" font-size="9.6" fill="#2b2624" text-anchor="middle" letter-spacing="0.5">20</text>
<text transform="translate(266.7 368.6) scale(1.1 1)" x="0.25" font-size="9.6" fill="#2b2624" text-anchor="middle" letter-spacing="0.5">40</text>
<text transform="translate(286.3 368.6) scale(1.1 1)" x="0.25" font-size="9.6" fill="#2b2624" text-anchor="middle" letter-spacing="0.5">60</text>
<text transform="translate(309.0 368.6) scale(1.1 1)" x="0.25" font-size="9.6" fill="#2b2624" text-anchor="middle" letter-spacing="0.5">2</text>
<text transform="translate(335.3 368.6) scale(1.1 1)" x="0.25" font-size="9.6" fill="#2b2624" text-anchor="middle" letter-spacing="0.5">4</text>
<text transform="translate(351.5 368.6) scale(1.1 1)" x="0.25" font-size="9.6" fill="#2b2624" text-anchor="middle" letter-spacing="0.5">6</text>
<text transform="translate(362.3 368.6) scale(1.1 1)" x="0.25" font-size="9.6" fill="#2b2624" text-anchor="middle" letter-spacing="0.5">8</text>
<text transform="translate(373.0 368.6) scale(1.1 1)" x="0.25" font-size="9.6" fill="#2b2624" text-anchor="middle" letter-spacing="0.5">10</text>
<text transform="translate(398.0 368.6) scale(1.1 1)" x="0.25" font-size="9.6" fill="#2b2624" text-anchor="middle" letter-spacing="0.5">20</text>
<text transform="translate(423.7 368.6) scale(1.1 1)" x="0.25" font-size="9.6" fill="#2b2624" text-anchor="middle" letter-spacing="0.5">40</text>
<text transform="translate(439.4 368.6) scale(1.1 1)" x="0.25" font-size="9.6" fill="#2b2624" text-anchor="middle" letter-spacing="0.5">60</text>
<text transform="translate(464.5 368.6) scale(1.1 1)" x="0.25" font-size="9.6" fill="#2b2624" text-anchor="middle" letter-spacing="0.5">2</text>
<text transform="translate(490.2 368.6) scale(1.1 1)" x="0.25" font-size="9.6" fill="#2b2624" text-anchor="middle" letter-spacing="0.5">4</text>
<text transform="translate(505.6 368.6) scale(1.1 1)" x="0.25" font-size="9.6" fill="#2b2624" text-anchor="middle" letter-spacing="0.5">6</text>
<text transform="translate(516.6 368.6) scale(1.1 1)" x="0.25" font-size="9.6" fill="#2b2624" text-anchor="middle" letter-spacing="0.5">8</text>
<text transform="translate(529.8 368.6) scale(1.1 1)" x="0.25" font-size="9.6" fill="#2b2624" text-anchor="middle" letter-spacing="0.5">10</text>
<text transform="translate(552.0 368.6) scale(1.1 1)" x="0.25" font-size="9.6" fill="#2b2624" text-anchor="middle" letter-spacing="0.5">20</text>
<path d="M127.3 376.5L143.6 374.1V378.9zM282 376.5L265.7 374.1V378.9zM287 376.5L303.3 374.1V378.9zM435 376.5L418.7 374.1V378.9zM440 376.5L456.3 374.1V378.9zM550.7 376.5L534.4000000000001 374.1V378.9z" fill="#231815"/>
<path d="M126.4 370.4V380.2M284.4 370.4V380.2M437.3 371.2V380M551.3 371V383.3" stroke="#565150" stroke-width="1" fill="none"/>
<path d="M143 376.5H189M218.5 376.5H266M303 376.5H352M370.3 376.5H419M455.5 376.5H482.7M502 376.5H535" stroke="#5f5b59" stroke-width="0.8" fill="none"/>
<text x="205.6" y="380.8" font-size="12" fill="#2b2624" text-anchor="middle">S</text>
<text x="361.3" y="380.5" font-size="12" fill="#2b2624" text-anchor="middle">min</text>
<text x="491.7" y="380.8" font-size="12" fill="#2b2624" text-anchor="middle">H</text>
<text x="226.3" y="413.8" font-size="14.7" fill="#2b2624" font-family="'Liberation Sans', 'Noto Sans CJK SC', sans-serif">放电时间</text>
<text x="289.4" y="414.2" font-size="14.6" fill="#2b2624" textLength="103.6" lengthAdjust="spacing">Discharge Time</text>
<text transform="translate(186.3 349) scale(1.15 1)" font-size="8.3" fill="#e5165a" stroke="#e5165a" stroke-width="0.22" letter-spacing="0.3">10C</text>
<text transform="translate(352 336.3) scale(1.15 1)" font-size="8.3" fill="#e5165a" stroke="#e5165a" stroke-width="0.22" letter-spacing="0.3">3C</text>
<text transform="translate(380 271.8) scale(1.15 1)" font-size="8.3" fill="#e5165a" stroke="#e5165a" stroke-width="0.22" letter-spacing="0.3">2.1C</text>
<text transform="translate(399 245) scale(1.15 1)" font-size="8.3" fill="#e5165a" stroke="#e5165a" stroke-width="0.22" letter-spacing="0.3">1.2C</text>
<text transform="translate(425.7 237) scale(1.15 1)" font-size="8.3" fill="#e5165a" stroke="#e5165a" stroke-width="0.22" letter-spacing="0.3">0.7C</text>
<text transform="translate(451.3 233.8) scale(1.15 1)" font-size="8.3" fill="#e5165a" stroke="#e5165a" stroke-width="0.22" letter-spacing="0.3">0.4C</text>
<text transform="translate(478.7 223.3) scale(1.15 1)" font-size="8.3" fill="#e5165a" stroke="#e5165a" stroke-width="0.22" letter-spacing="0.3">0.22C</text>
<text transform="translate(508.7 219.6) scale(1.15 1)" font-size="8.3" fill="#e5165a" stroke="#e5165a" stroke-width="0.22" letter-spacing="0.3">0.10C</text>
<text transform="translate(540 219) scale(1.15 1)" font-size="8.3" fill="#e5165a" stroke="#e5165a" stroke-width="0.22" letter-spacing="0.3">0.05C</text>
</svg>
</body></html>
